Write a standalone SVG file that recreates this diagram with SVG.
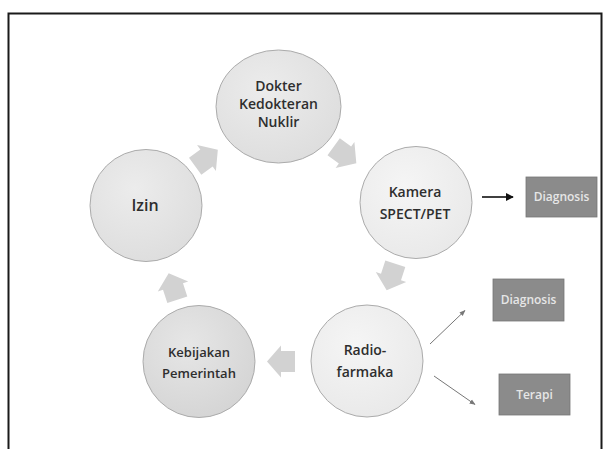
<svg xmlns="http://www.w3.org/2000/svg" width="604" height="449" viewBox="0 0 604 449">
<defs>
<radialGradient id="g1" cx="0.4" cy="0.35" r="0.75">
<stop offset="0" stop-color="#ececec"/><stop offset="1" stop-color="#dcdcdc"/>
</radialGradient>
<radialGradient id="g2" cx="0.4" cy="0.35" r="0.75">
<stop offset="0" stop-color="#f5f5f5"/><stop offset="1" stop-color="#e8e8e8"/>
</radialGradient>
<radialGradient id="g3" cx="0.4" cy="0.35" r="0.75">
<stop offset="0" stop-color="#e6e6e6"/><stop offset="1" stop-color="#d3d3d3"/>
</radialGradient>
<marker id="mh" viewBox="0 0 10 10" refX="9" refY="5" markerWidth="6" markerHeight="6" orient="auto" markerUnits="userSpaceOnUse">
<path d="M0,1 L10,5 L0,9 z" fill="#777"/>
</marker>
<marker id="mb" viewBox="0 0 10 10" refX="9" refY="5" markerWidth="8" markerHeight="8" orient="auto" markerUnits="userSpaceOnUse">
<path d="M0,0 L10,5 L0,10 z" fill="#111"/>
</marker>
<polygon id="blk" points="14,0 0,-16 0,-10.5 -14,-10.5 -14,10.5 0,10.5 0,16"/>
</defs>
<style>
.node{stroke:#ababab;stroke-width:1}
.t{font-family:"Open Sans","Liberation Sans",sans-serif;font-weight:600;fill:#2e2e2e;text-anchor:middle}
.box{fill:#8b8b8b;stroke:#777;stroke-width:0.8}
.bt{font-family:"Open Sans","Liberation Sans",sans-serif;font-weight:600;font-size:12px;fill:#e6e6e6;text-anchor:middle}
.cyc{fill:#d2d2d2}
</style>
<rect width="604" height="449" fill="#ffffff"/>
<path d="M8.5,449 V13.5 H601.5 V449" fill="none" stroke="#1a1a1a" stroke-width="2"/>
<g id="connectors">
<use href="#blk" class="cyc" transform="translate(206.5,158) rotate(-36)"/>
<use href="#blk" class="cyc" transform="translate(345,155) rotate(36)"/>
<use href="#blk" class="cyc" transform="translate(391,277) rotate(108)"/>
<use href="#blk" class="cyc" transform="translate(281,361.5) rotate(180)"/>
<use href="#blk" class="cyc" transform="translate(173,286.5) rotate(-108)"/>
<line x1="482" y1="197" x2="513" y2="197" stroke="#111" stroke-width="1.6" marker-end="url(#mb)"/>
<line x1="430" y1="344" x2="465" y2="310.5" stroke="#777" stroke-width="1" marker-end="url(#mh)"/>
<line x1="434" y1="376" x2="475" y2="404.5" stroke="#777" stroke-width="1" marker-end="url(#mh)"/>
</g>
<g id="node-dokter">
<ellipse class="node" cx="278.5" cy="106.5" rx="62.5" ry="56.5" fill="url(#g1)"/>
<text class="t" font-size="14" x="278.5" y="91">Dokter</text>
<text class="t" font-size="14" x="278.5" y="109">Kedokteran</text>
<text class="t" font-size="14" x="278.5" y="126.5">Nuklir</text>
</g>
<g id="node-kamera">
<circle class="node" cx="416" cy="202.5" r="56" fill="url(#g2)"/>
<text class="t" font-size="14" x="415" y="196.5">Kamera</text>
<text class="t" font-size="14" x="415" y="219">SPECT/PET</text>
</g>
<g id="node-radio">
<circle class="node" cx="367" cy="361" r="56" fill="url(#g2)"/>
<text class="t" font-size="14" x="365" y="355">Radio-</text>
<text class="t" font-size="14" x="365" y="376.5">farmaka</text>
</g>
<g id="node-kebijakan">
<circle class="node" cx="199" cy="361.5" r="56" fill="url(#g3)"/>
<text class="t" font-size="13" x="199" y="356.5">Kebijakan</text>
<text class="t" font-size="13" x="199" y="378">Pemerintah</text>
</g>
<g id="node-izin">
<circle class="node" cx="146" cy="205.5" r="56" fill="url(#g1)"/>
<text class="t" font-size="16" x="145" y="211">Izin</text>
</g>
<g id="node-diagnosis1">
<rect class="box" x="526" y="177" width="71" height="40"/>
<text class="bt" x="561.5" y="201">Diagnosis</text>
</g>
<g id="node-diagnosis2">
<rect class="box" x="493" y="279" width="71" height="42"/>
<text class="bt" x="528.5" y="304">Diagnosis</text>
</g>
<g id="node-terapi">
<rect class="box" x="499" y="374" width="71" height="41"/>
<text class="bt" x="534.5" y="399">Terapi</text>
</g>
</svg>
